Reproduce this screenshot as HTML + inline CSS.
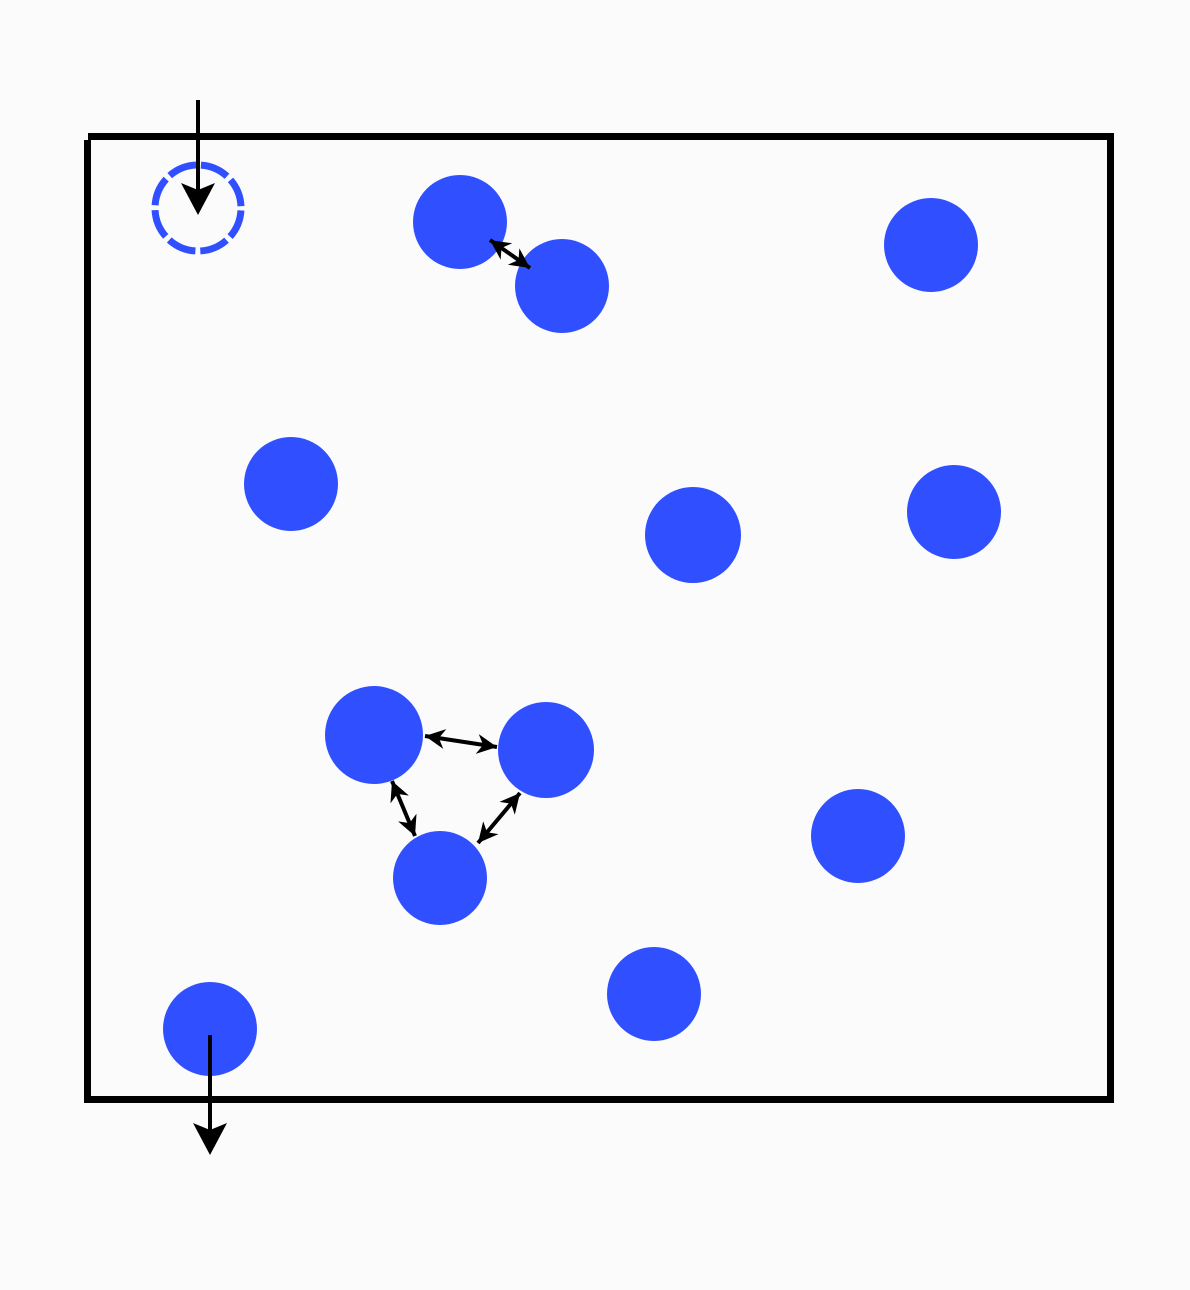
<!DOCTYPE html>
<html><head><meta charset="utf-8"><style>html,body{margin:0;padding:0;background:#fbfbfb}svg{display:block}</style></head>
<body>
<svg id="d" width="1190" height="1290" viewBox="0 0 1190 1290" xmlns="http://www.w3.org/2000/svg">
<defs>
<marker id="ah" viewBox="0 0 10 10" refX="10" refY="5" markerWidth="5" markerHeight="5" markerUnits="strokeWidth" orient="auto-start-reverse"><path d="M0,0 L10,5 L0,10 L3,5 z" fill="#000"/></marker>
</defs>
<rect width="1190" height="1290" fill="#fbfbfb"/>
<g stroke="#000" stroke-width="7" fill="none">
<line x1="88" y1="136.5" x2="1114" y2="136.5"/>
<line x1="87.5" y1="140" x2="87.5" y2="1103"/>
<line x1="1110.5" y1="133" x2="1110.5" y2="1103"/>
<line x1="84" y1="1099.5" x2="1114" y2="1099.5"/>
</g>
<circle cx="198" cy="208" r="43" fill="none" stroke="#3050ff" stroke-width="7" stroke-dasharray="28.8 5" stroke-dashoffset="-2.5"/>
<g id="parts"></g>
<g id="links"></g>
<g>
<line x1="198" y1="100" x2="198" y2="190" stroke="#000" stroke-width="4"/>
<path d="M181,183 L198,215 L215,183 L198,190 z" fill="#000"/>
</g>
<g>
<line x1="210" y1="1035" x2="210" y2="1130" stroke="#000" stroke-width="4"/>
<path d="M193,1123 L210,1155 L227,1123 L210,1130 z" fill="#000"/>
</g>
</svg>
<script>
const cx=[460,562,931,291,693,954,374,546,858,440,654,210];
const cy=[222,286,245,484,535,512,735,750,836,878,994,1029];
const rr=[47,47,47,47,48,47,49,48,47,47,47,47];
const linkFrom=[[490,240],[425,736],[392,781],[520,793]];
const linkTo=[[530,268],[497,747],[415,836],[478,843]];
const NS="http://www.w3.org/2000/svg";
const g=document.getElementById('parts');
for(let i=0;i<cx.length;i++){
  const c=document.createElementNS(NS,'circle');
  c.setAttribute('cx',cx[i]);c.setAttribute('cy',cy[i]);c.setAttribute('r',rr[i]);c.setAttribute('fill','#3050ff');
  
  
  g.appendChild(c);
}
const lg=document.getElementById('links');
for(let i=0;i<linkFrom.length;i++){
  const l=document.createElementNS(NS,'line');
  l.setAttribute('x1',linkFrom[i][0]);l.setAttribute('y1',linkFrom[i][1]);
  l.setAttribute('x2',linkTo[i][0]);l.setAttribute('y2',linkTo[i][1]);
  l.setAttribute('stroke','#000');l.setAttribute('stroke-width','4');
  l.setAttribute('marker-start','url(#ah)');l.setAttribute('marker-end','url(#ah)');
  
  
  lg.appendChild(l);
}
</script>
</body></html>
